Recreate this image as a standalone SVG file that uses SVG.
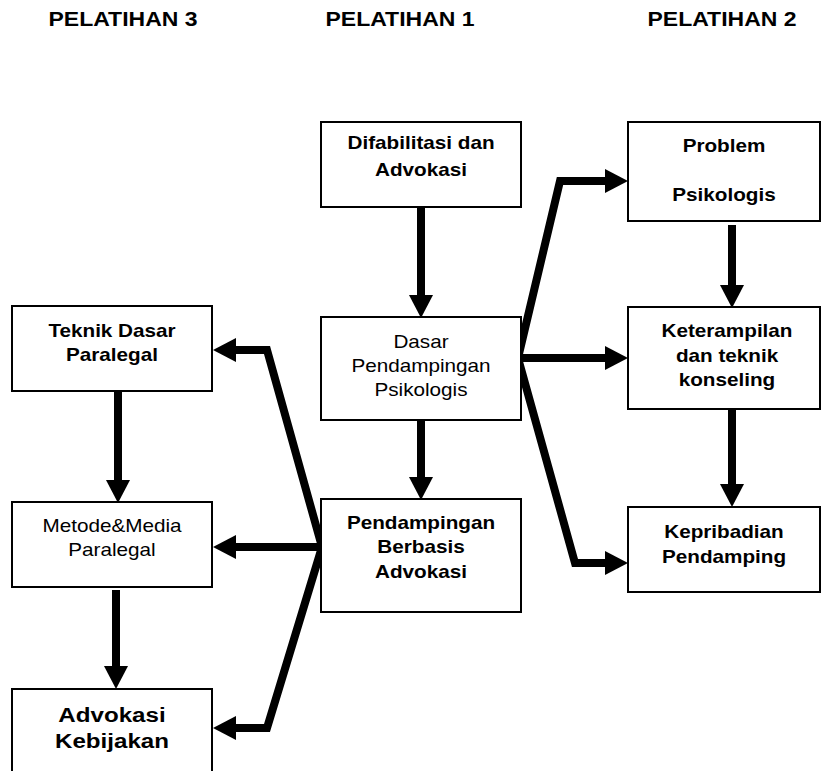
<svg xmlns="http://www.w3.org/2000/svg" width="822" height="771" viewBox="0 0 822 771">
<style>
  .box{fill:#fff;stroke:#000;stroke-width:2}
  text{font-family:"Liberation Sans",Arial,sans-serif;text-anchor:middle;fill:#000}
  .t{font-size:20px;font-weight:bold}
  .b{font-size:18px;font-weight:bold}
  .r{font-size:18px}
  .big{font-size:21px;font-weight:bold}
  .c{fill:none;stroke:#000;stroke-width:8;stroke-linejoin:miter;marker-end:url(#ah)}
</style>
<defs>
  <marker id="ah" markerUnits="userSpaceOnUse" markerWidth="24" markerHeight="24" viewBox="0 0 23 24" refX="1" refY="12" orient="auto">
    <path d="M0,0 L23,12 L0,24 z" fill="#000"/>
  </marker>
</defs>
<rect width="822" height="771" fill="#fff"/>

<g id="titles">
  <text class="t" transform="translate(123,0) scale(1.15,1)"><tspan x="0" y="26">PELATIHAN 3</tspan></text>
  <text class="t" transform="translate(400,0) scale(1.15,1)"><tspan x="0" y="26">PELATIHAN 1</tspan></text>
  <text class="t" transform="translate(722,0) scale(1.15,1)"><tspan x="0" y="26">PELATIHAN 2</tspan></text>
</g>

<g id="connectors">
  <path class="c" d="M421,207 V296"/>
  <path class="c" d="M421,420 V478"/>
  <path class="c" d="M732,225 V286"/>
  <path class="c" d="M732,409 V485"/>
  <path class="c" d="M118,391 V481"/>
  <path class="c" d="M116,590 V667"/>
  <path class="c" d="M322,547 L267,350 H235"/>
  <path class="c" d="M324,547 H235"/>
  <path class="c" d="M322,547 L267,728 H235"/>
  <path class="c" d="M518,358 L560,181 H606"/>
  <path class="c" d="M516,358 H606"/>
  <path class="c" d="M518,358 L575,563 H606"/>
</g>

<g id="n-difabilitasi">
  <rect class="box" x="321" y="122" width="200" height="85"/>
  <text class="b" transform="translate(421,0) scale(1.15,1)"><tspan x="0" y="149">Difabilitasi dan</tspan><tspan x="0" y="176">Advokasi</tspan></text>
</g>
<g id="n-dasar">
  <rect class="box" x="321" y="317" width="200" height="103"/>
  <text class="r" transform="translate(421,0) scale(1.15,1)"><tspan x="0" y="348">Dasar</tspan><tspan x="0" y="372">Pendampingan</tspan><tspan x="0" y="396">Psikologis</tspan></text>
</g>
<g id="n-pendampingan">
  <rect class="box" x="321" y="499" width="200" height="113"/>
  <text class="b" transform="translate(421,0) scale(1.15,1)"><tspan x="0" y="529">Pendampingan</tspan><tspan x="0" y="553">Berbasis</tspan><tspan x="0" y="578">Advokasi</tspan></text>
</g>
<g id="n-problem">
  <rect class="box" x="628" y="122" width="192" height="99"/>
  <text class="b" transform="translate(724,0) scale(1.15,1)"><tspan x="0" y="152">Problem</tspan><tspan x="0" y="201">Psikologis</tspan></text>
</g>
<g id="n-keterampilan">
  <rect class="box" x="628" y="307" width="192" height="102"/>
  <text class="b" transform="translate(727,0) scale(1.15,1)"><tspan x="0" y="337">Keterampilan</tspan><tspan x="0" y="362">dan teknik</tspan><tspan x="0" y="386">konseling</tspan></text>
</g>
<g id="n-kepribadian">
  <rect class="box" x="628" y="507" width="192" height="85"/>
  <text class="b" transform="translate(724,0) scale(1.15,1)"><tspan x="0" y="538">Kepribadian</tspan><tspan x="0" y="563">Pendamping</tspan></text>
</g>
<g id="n-teknik">
  <rect class="box" x="12" y="306" width="200" height="85"/>
  <text class="b" transform="translate(112,0) scale(1.15,1)"><tspan x="0" y="337">Teknik Dasar</tspan><tspan x="0" y="361">Paralegal</tspan></text>
</g>
<g id="n-metode">
  <rect class="box" x="12" y="502" width="200" height="85"/>
  <text class="r" transform="translate(112,0) scale(1.15,1)"><tspan x="0" y="532">Metode&amp;Media</tspan><tspan x="0" y="556">Paralegal</tspan></text>
</g>
<g id="n-advokasi">
  <rect class="box" x="12" y="689" width="200" height="100"/>
  <text class="big" transform="translate(112,0) scale(1.15,1)"><tspan x="0" y="722">Advokasi</tspan><tspan x="0" y="748">Kebijakan</tspan></text>
</g>
</svg>
